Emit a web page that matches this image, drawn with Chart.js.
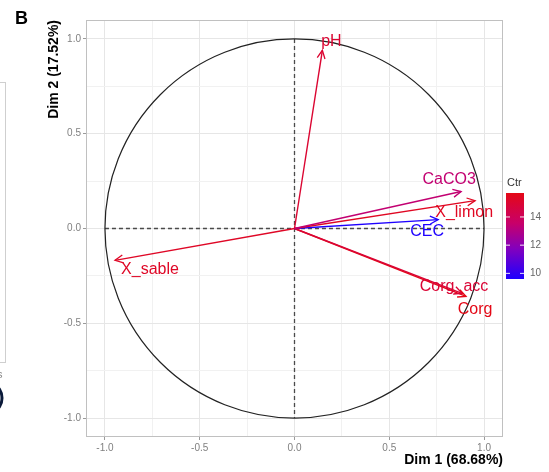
<!DOCTYPE html>
<html lang="en">
  <head>
    <meta charset="UTF-8">
    <title>PCA variables</title>
    <style>
      html, body { margin: 0; padding: 0; background: #fff; }
      #wrap { width: 549px; height: 472px; position: relative; }
    </style>
  </head>
  <body>
    <div id="wrap"><canvas id="pca"></canvas></div>
    <script src="https://cdn.jsdelivr.net/npm/chart.js@4/dist/chart.umd.min.js"></script>
    <script>

      // variables, coordinates on Dim 1 / Dim 2, and contribution (Ctr)
      var varNames = ['pH', 'CaCO3', 'X_limon', 'CEC', 'X_sable', 'Corg_acc', 'Corg'];
      var dim1 = [0.147, 0.879, 0.953, 0.758, -0.947, 0.884, 0.905];
      var dim2 = [0.940, 0.195, 0.147, 0.047, -0.168, -0.342, -0.358];
      var ctr = [15.0, 13.4, 15.4, 9.6, 15.3, 14.9, 15.7];

      var axisTicks = [-1, -0.75, -0.5, -0.25, 0, 0.25, 0.5, 0.75, 1];
      var legendTicks = [10, 12, 14];

      // label offsets from arrow tip, px
      var labelOffset = {
        'pH': [9, -9], 'CaCO3': [-12, -12], 'X_limon': [-11, 12], 'CEC': [-11, 12],
        'X_sable': [35, 9], 'Corg_acc': [-8, -7], 'Corg': [9, 13]
      };

      var ctrMin = Math.min.apply(null, ctr);
      var ctrMax = Math.max.apply(null, ctr);
      var stops = [[0, [30, 0, 255]], [0.35, [130, 0, 190]], [0.65, [200, 0, 105]], [1, [228, 8, 22]]];

      function ctrColor(v) {
        var t = Math.max(0, Math.min(1, (v - ctrMin) / (ctrMax - ctrMin)));
        for (var i = 1; i < stops.length; i++) {
          if (t <= stops[i][0]) {
            var a = stops[i - 1], b = stops[i];
            var f = (t - a[0]) / (b[0] - a[0]);
            var c = a[1].map(function (x, k) { return Math.round(x + (b[1][k] - x) * f); });
            return 'rgb(' + c.join(',') + ')';
          }
        }
        return 'rgb(' + stops[stops.length - 1][1].join(',') + ')';
      }

      var FONT = '"Liberation Sans", Arial, sans-serif';

      var datasets = varNames.map(function (name, i) {
        return {
          label: name,
          data: [{x: 0, y: 0}, {x: dim1[i], y: dim2[i]}],
          showLine: true,
          borderColor: ctrColor(ctr[i]),
          backgroundColor: ctrColor(ctr[i]),
          borderWidth: 1.4,
          pointRadius: 0
        };
      });

      var guides = {
        id: 'guides',
        beforeDatasetsDraw: function (chart) {
          var ctx = chart.ctx, xs = chart.scales.x, ys = chart.scales.y, a = chart.chartArea;
          ctx.save();
          // panel border
          ctx.strokeStyle = '#c0c0c0';
          ctx.lineWidth = 1;
          ctx.strokeRect(a.left + 0.5, a.top + 0.5, a.right - a.left - 1, a.bottom - a.top - 1);
          // dashed axes
          ctx.strokeStyle = '#4a4a4a';
          ctx.lineWidth = 1.3;
          ctx.setLineDash([4, 3]);
          ctx.beginPath();
          ctx.moveTo(xs.getPixelForValue(-1), ys.getPixelForValue(0));
          ctx.lineTo(xs.getPixelForValue(1), ys.getPixelForValue(0));
          ctx.moveTo(xs.getPixelForValue(0), ys.getPixelForValue(1));
          ctx.lineTo(xs.getPixelForValue(0), ys.getPixelForValue(-1));
          ctx.stroke();
          ctx.setLineDash([]);
          // correlation circle
          var cx = xs.getPixelForValue(0), cy = ys.getPixelForValue(0);
          var rx = xs.getPixelForValue(1) - cx, ry = cy - ys.getPixelForValue(1);
          ctx.strokeStyle = '#222';
          ctx.lineWidth = 1.2;
          ctx.beginPath();
          ctx.ellipse(cx, cy, rx, ry, 0, 0, Math.PI * 2);
          ctx.stroke();
          ctx.restore();
        },
        afterDatasetsDraw: function (chart) {
          var ctx = chart.ctx;
          ctx.save();
          chart.data.datasets.forEach(function (ds, i) {
            var pts = chart.getDatasetMeta(i).data;
            var x0 = pts[0].x, y0 = pts[0].y, x1 = pts[1].x, y1 = pts[1].y;
            var ang = Math.atan2(y1 - y0, x1 - x0), len = 9, spread = 0.45;
            ctx.strokeStyle = ds.borderColor;
            ctx.lineWidth = 1.3;
            ctx.beginPath();
            ctx.moveTo(x1 - len * Math.cos(ang - spread), y1 - len * Math.sin(ang - spread));
            ctx.lineTo(x1, y1);
            ctx.lineTo(x1 - len * Math.cos(ang + spread), y1 - len * Math.sin(ang + spread));
            ctx.stroke();
            var off = labelOffset[ds.label];
            ctx.fillStyle = ds.borderColor;
            ctx.font = '16px ' + FONT;
            ctx.textAlign = 'center';
            ctx.textBaseline = 'middle';
            ctx.fillText(ds.label, x1 + off[0], y1 + off[1]);
          });
          ctx.restore();
        },
        afterDraw: function (chart) {
          var ctx = chart.ctx;
          ctx.save();
          // panel letter
          ctx.fillStyle = '#000';
          ctx.font = 'bold 18px ' + FONT;
          ctx.textAlign = 'left';
          ctx.textBaseline = 'alphabetic';
          ctx.fillText('B', 15, 24);
          // remains of the neighbouring panel
          ctx.strokeStyle = '#cfcfcf';
          ctx.lineWidth = 1;
          ctx.strokeRect(-10, 82.5, 15.5, 280);
          ctx.fillStyle = '#888';
          ctx.font = '11px ' + FONT;
          ctx.fillText('s', -3, 378);
          ctx.strokeStyle = '#0b1a3a';
          ctx.lineWidth = 3;
          ctx.beginPath();
          ctx.ellipse(-6, 398, 8, 12, 0, -Math.PI / 2, Math.PI / 2);
          ctx.stroke();

          // colour bar
          var bx = 506, bw = 18, btop = 193, bbot = 279;
          var g = ctx.createLinearGradient(0, bbot, 0, btop);
          stops.forEach(function (s) { g.addColorStop(s[0], 'rgb(' + s[1].join(',') + ')'); });
          ctx.fillStyle = g;
          ctx.fillRect(bx, btop, bw, bbot - btop);
          ctx.fillStyle = '#333';
          ctx.font = '11px ' + FONT;
          ctx.textBaseline = 'middle';
          ctx.fillText('Ctr', bx + 1, 183);
          ctx.font = '10px ' + FONT;
          ctx.fillStyle = '#666';
          legendTicks.forEach(function (v) {
            var y = bbot - (v - ctrMin) / (ctrMax - ctrMin) * (bbot - btop);
            ctx.strokeStyle = 'rgba(255,255,255,0.9)';
            ctx.lineWidth = 1;
            ctx.beginPath();
            ctx.moveTo(bx, y); ctx.lineTo(bx + 4, y);
            ctx.moveTo(bx + bw - 4, y); ctx.lineTo(bx + bw, y);
            ctx.stroke();
            ctx.fillText(String(v), bx + bw + 6, y);
          });
          ctx.restore();
        }
      };

      function isMajor(v) { return Math.abs(v * 2 - Math.round(v * 2)) < 1e-6; }

      function axis(pos, title) {
        return {
          type: 'linear',
          position: pos,
          min: -1.1,
          max: 1.1,
          afterBuildTicks: function (s) { s.ticks = axisTicks.map(function (v) { return {value: v}; }); },
          afterFit: function (s) {
            if (pos === 'left') s.width = 42; else s.height = 35;
          },
          grid: {
            color: function (c) { return c.tick && isMajor(c.tick.value) ? '#e6e6e6' : '#f1f1f1'; },
            tickColor: function (c) { return c.tick && isMajor(c.tick.value) ? '#9a9a9a' : 'rgba(0,0,0,0)'; },
            tickLength: 3,
            lineWidth: 1
          },
          border: { display: false },
          ticks: {
            autoSkip: false,
            maxRotation: 0,
            padding: 2,
            color: '#808080',
            font: { family: FONT, size: 10 },
            callback: function (v) { return isMajor(v) ? v.toFixed(1) : ''; }
          },
          title: {
            display: true,
            text: title,
            align: 'end',
            color: '#000',
            font: { family: FONT, size: 14, weight: 'bold' },
            padding: pos === 'left' ? {top: 2, bottom: 0} : {top: 0, bottom: 3}
          }
        };
      }

      new Chart(document.getElementById('pca'), {
        type: 'scatter',
        data: { datasets: datasets },
        plugins: [guides],
        options: {
          responsive: true,
          maintainAspectRatio: false,
          animation: false,
          layout: { padding: { left: 44, right: 46, top: 20, bottom: 0 } },
          scales: {
            x: axis('bottom', 'Dim 1 (68.68%)'),
            y: axis('left', 'Dim 2 (17.52%)')
          },
          plugins: {
            legend: { display: false },
            tooltip: { enabled: false }
          }
        }
      });
    </script>
  </body>
</html>
